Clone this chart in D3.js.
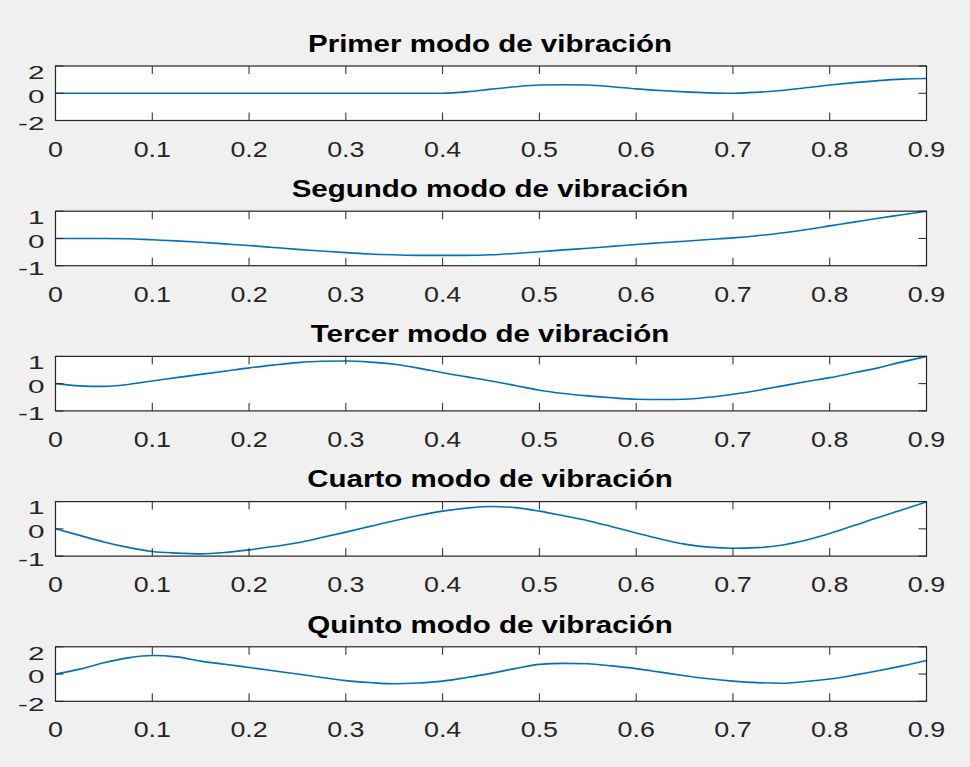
<!DOCTYPE html>
<html><head><meta charset="utf-8">
<script src="https://cdn.jsdelivr.net/npm/d3@7"></script>
<style>
html,body{margin:0;padding:0;background:#f0f0f0;}
svg{display:block;}
</style></head>
<body>
<svg id="chart" width="970" height="767"></svg>
<script>
// ---- data ----
const titles = ["Primer modo de vibración","Segundo modo de vibración","Tercer modo de vibración","Cuarto modo de vibración","Quinto modo de vibración"];
const xGrid = [0,0.025,0.05,0.075,0.1,0.125,0.15,0.175,0.2,0.225,0.25,0.275,0.3,0.325,0.35,0.375,0.4,0.425,0.45,0.475,0.5,0.525,0.55,0.575,0.6,0.625,0.65,0.675,0.7,0.725,0.75,0.775,0.8,0.825,0.85,0.875,0.9];
const mode1 = [0,0,0,0,0,0,0,0,0,0,0,0,0,0,0,0,0,0.1,0.3,0.48,0.6,0.62,0.6,0.48,0.32,0.2,0.1,0.03,0.0,0.07,0.2,0.4,0.6,0.78,0.93,1.04,1.08];
const mode2 = [0,0,0,-0.01,-0.05,-0.09,-0.14,-0.2,-0.26,-0.33,-0.4,-0.46,-0.52,-0.57,-0.6,-0.62,-0.62,-0.62,-0.6,-0.55,-0.49,-0.42,-0.36,-0.29,-0.22,-0.16,-0.1,-0.04,0.02,0.1,0.2,0.32,0.46,0.6,0.74,0.87,1.0];
const mode3 = [0,-0.08,-0.1,-0.03,0.1,0.22,0.34,0.46,0.58,0.68,0.77,0.82,0.83,0.79,0.71,0.57,0.4,0.25,0.1,-0.07,-0.24,-0.36,-0.45,-0.52,-0.57,-0.58,-0.57,-0.5,-0.39,-0.25,-0.09,0.07,0.22,0.4,0.58,0.8,1.0];
const mode4 = [0,-0.24,-0.48,-0.68,-0.83,-0.89,-0.92,-0.87,-0.77,-0.65,-0.51,-0.32,-0.12,0.09,0.3,0.49,0.65,0.76,0.82,0.78,0.65,0.48,0.3,0.08,-0.15,-0.37,-0.56,-0.67,-0.71,-0.69,-0.6,-0.42,-0.17,0.12,0.42,0.7,0.99];
const mode5 = [0,0.36,0.83,1.19,1.36,1.26,0.95,0.72,0.48,0.24,0,-0.25,-0.48,-0.62,-0.71,-0.66,-0.52,-0.25,0.05,0.4,0.71,0.78,0.76,0.6,0.4,0.14,-0.12,-0.35,-0.52,-0.63,-0.67,-0.55,-0.36,-0.08,0.24,0.6,1.0];
const modes = [mode1, mode2, mode3, mode4, mode5];
const yLimits = [2,1,1,1,2];
const xTicks = [0,0.1,0.2,0.3,0.4,0.5,0.6,0.7,0.8,0.9];
const xTickLabels = ["0","0.1","0.2","0.3","0.4","0.5","0.6","0.7","0.8","0.9"];

// ---- layout ----
const left = 55.5, right = 926.5;
const firstTop = 66, step = 145.2, ph = 54.5;
const axisColor = "#262626";
const lineColor = "#0072BD";

const svg = d3.select("#chart");
svg.append("rect").attr("width",970).attr("height",767).attr("fill","#f0f0f0");

const x = d3.scaleLinear().domain([0,0.9]).range([left,right]);

modes.forEach((vals, i) => {
  const top = firstTop + i*step;
  const bottom = top + ph;
  const lim = yLimits[i];
  const y = d3.scaleLinear().domain([-lim, lim]).range([bottom, top]);
  const g = svg.append("g");

  g.append("rect").attr("x",left).attr("y",top).attr("width",right-left).attr("height",ph)
    .attr("fill","#fff");

  const clipId = "clip"+i;
  g.append("clipPath").attr("id",clipId).append("rect")
    .attr("x",left).attr("y",top-1).attr("width",right-left).attr("height",ph+2);

  const line = d3.line().x((d,j)=>x(xGrid[j])).y(d=>y(d)).curve(d3.curveMonotoneX);
  g.append("path").datum(vals).attr("d",line).attr("fill","none")
    .attr("stroke",lineColor).attr("stroke-width",1.6).attr("clip-path",`url(#${clipId})`);

  // x ticks (inward, top and bottom)
  const tl = 8;
  g.selectAll(".xtb").data(xTicks).join("line")
    .attr("x1",d=>x(d)).attr("x2",d=>x(d)).attr("y1",bottom).attr("y2",bottom-tl)
    .attr("stroke",axisColor).attr("stroke-width",1);
  g.selectAll(".xtt").data(xTicks).join("line")
    .attr("x1",d=>x(d)).attr("x2",d=>x(d)).attr("y1",top).attr("y2",top+tl)
    .attr("stroke",axisColor).attr("stroke-width",1);
  // y ticks (inward, left & right)
  const yTicks = [-lim,0,lim];
  g.selectAll(".ytl").data(yTicks).join("line")
    .attr("x1",left).attr("x2",left+tl).attr("y1",d=>y(d)).attr("y2",d=>y(d))
    .attr("stroke",axisColor).attr("stroke-width",1);
  g.selectAll(".ytr").data(yTicks).join("line")
    .attr("x1",right).attr("x2",right-tl).attr("y1",d=>y(d)).attr("y2",d=>y(d))
    .attr("stroke",axisColor).attr("stroke-width",1);

  // box
  g.append("rect").attr("x",left).attr("y",top).attr("width",right-left).attr("height",ph)
    .attr("fill","none").attr("stroke",axisColor).attr("stroke-width",1.2);

  // x tick labels
  g.selectAll(".xl").data(xTicks).join("text")
    .attr("transform",d=>`translate(${x(d)},${bottom+36}) scale(1.22,1)`)
    .attr("text-anchor","middle")
    .attr("font-family","'Liberation Sans', Arial, sans-serif")
    .attr("font-size",22).attr("fill",axisColor)
    .text((d,j)=>xTickLabels[j]);

  // y tick labels
  g.selectAll(".yl").data(yTicks).join("text")
    .attr("transform",(d,j)=>`translate(44.5,${y(d) + (j===2 ? 6.5 : 3.2) + 6.2}) scale(1.7,1)`)
    .attr("text-anchor","end")
    .attr("font-family","'Liberation Sans', Arial, sans-serif")
    .attr("font-size",17.5).attr("fill",axisColor)
    .text(d=>String(d));

  // title
  g.append("text")
    .attr("transform",`translate(${(left+right)/2 - 1},${top-14.3}) scale(1.23,1)`)
    .attr("text-anchor","middle")
    .attr("font-family","'Liberation Sans', Arial, sans-serif")
    .attr("font-weight","bold").attr("font-size",24).attr("fill","#000")
    .text(titles[i]);
});
</script>
</body></html>
